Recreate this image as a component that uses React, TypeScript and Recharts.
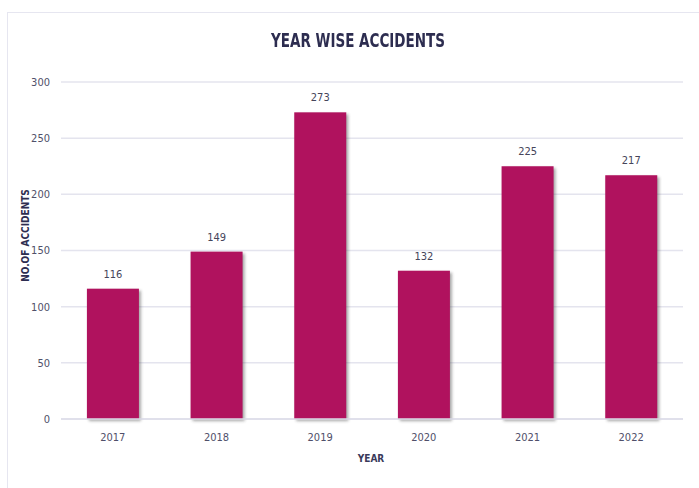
import { BarChart, Bar, XAxis, YAxis, CartesianGrid, LabelList } from 'recharts'

const YEARS = ['2017', '2018', '2019', '2020', '2021', '2022']
const ACCIDENTS = [116, 149, 273, 132, 225, 217]
const Y_TICKS = [0, 50, 100, 150, 200, 250, 300]

const data = YEARS.map((year, i) => ({ year, accidents: ACCIDENTS[i] }))

const BAR = '#b0125e'
const FONT = '"DejaVu Sans", sans-serif'
const TICK = { fontSize: 11, fill: '#50506a', fontFamily: FONT, fontStretch: 'condensed' }

const ShadowBar = (props: any) => {
  const { x, y, width, height, index } = props
  if (!height || height <= 0) return null
  const id = `sh${index}`
  return (
    <g>
      <defs>
        <filter id={id} x="-20%" y="-20%" width="140%" height="140%">
          <feGaussianBlur stdDeviation="1.5" />
        </filter>
      </defs>
      <rect x={x + 2} y={y + 2} width={width} height={height} fill="#3a3a3a" opacity={0.45} filter={`url(#${id})`} />
      <rect x={x} y={y} width={width} height={height} fill={BAR} />
    </g>
  )
}

export default function App() {
  return (
    <div style={{ position: 'fixed', left: 0, top: 0, width: 699, height: 488, background: '#fff', overflow: 'hidden' }}>
      <div style={{ position: 'absolute', left: 7, top: 12, width: 720, height: 500, borderTop: '1px solid #e6e6f0', borderLeft: '1px solid #e6e6f0' }} />
      <div style={{ position: 'absolute', left: 0, top: 29, width: 716, textAlign: 'center', fontFamily: FONT, fontStretch: 'condensed', fontWeight: 700, fontSize: 19, color: '#2d2d50', transform: 'scaleX(0.79)', transformOrigin: '358px 0' }}>
        YEAR WISE ACCIDENTS
      </div>
      <div style={{ position: 'absolute', left: 0, top: 0 }}>
        <BarChart width={699} height={488} data={data} margin={{ top: 82, right: 16, bottom: 39, left: 11 }} barCategoryGap="25%">
          <CartesianGrid vertical={false} stroke="#e4e4ee" strokeWidth={1.5} />
          <XAxis dataKey="year" tick={TICK} tickLine={false} axisLine={{ stroke: '#dcdce8', strokeWidth: 1.5 }} tickMargin={8} />
          <YAxis domain={[0, 300]} ticks={Y_TICKS} tick={TICK} tickLine={false} axisLine={false} width={50} tickMargin={5} />
          <Bar dataKey="accidents" shape={<ShadowBar />} isAnimationActive={false}>
            <LabelList dataKey="accidents" position="top" offset={11} style={{ fontSize: 11, fill: '#45455a', fontFamily: FONT, fontStretch: 'condensed' }} />
          </Bar>
        </BarChart>
      </div>
      <div style={{ position: 'absolute', left: 321, top: 453, width: 100, textAlign: 'center', fontFamily: FONT, fontStretch: 'condensed', fontWeight: 700, fontSize: 10, color: '#3a3a5a' }}>
        YEAR
      </div>
      <div style={{ position: 'absolute', left: 25, top: 237, width: 0, height: 0 }}>
        <div style={{ position: 'absolute', left: -60, top: -7, width: 120, textAlign: 'center', transform: 'rotate(-90deg)', fontFamily: FONT, fontStretch: 'condensed', fontWeight: 700, fontSize: 10, color: '#2d2d50', whiteSpace: 'nowrap' }}>
          NO.OF ACCIDENTS
        </div>
      </div>
    </div>
  )
}
